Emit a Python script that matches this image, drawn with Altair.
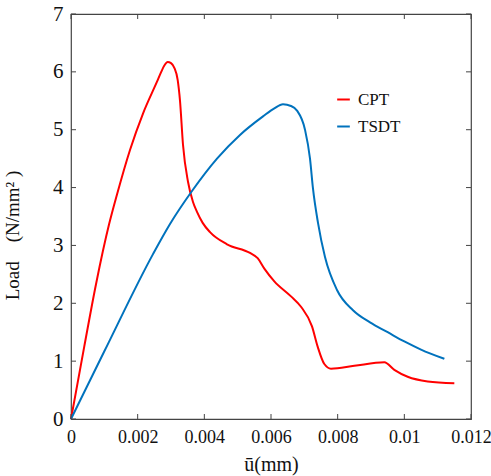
import altair as alt
import pandas as pd

cpt_x = [0, 0.0004, 0.00075, 0.00114, 0.00138, 0.00177, 0.00216, 0.00258, 0.0027, 0.0028, 0.0029, 0.003,
         0.0031, 0.0032, 0.00327, 0.00336, 0.00351, 0.00366, 0.00378, 0.00395, 0.00417, 0.00468,
         0.00537, 0.0056, 0.0058, 0.0061, 0.0066, 0.0069, 0.00723, 0.0074, 0.0076, 0.0078, 0.0085,
         0.0094, 0.0097, 0.0101, 0.0107, 0.0115]
cpt_y = [0, 1.26, 2.33, 3.36, 3.88, 4.65, 5.28, 5.83, 5.99, 6.11, 6.17, 6.15,
         6.07, 5.86, 5.5, 4.74, 4.1, 3.75, 3.58, 3.39, 3.23, 3.02,
         2.87, 2.78, 2.6, 2.38, 2.12, 1.94, 1.6, 1.25, 0.95, 0.87, 0.92,
         0.98, 0.85, 0.73, 0.65, 0.62]

tsdt_x = [0, 0.001, 0.00246, 0.00297, 0.00363, 0.00438, 0.00507, 0.00576, 0.0061, 0.00636,
          0.0066, 0.00678, 0.00702, 0.00717, 0.00726, 0.00741, 0.00762, 0.00798, 0.00846, 0.00897,
          0.0095, 0.01, 0.0105, 0.0112]
tsdt_y = [0, 1.17, 2.85, 3.37, 3.94, 4.5, 4.91, 5.23, 5.37, 5.44,
          5.41, 5.33, 5.0, 4.5, 3.98, 3.39, 2.8, 2.23, 1.88, 1.67,
          1.5, 1.34, 1.2, 1.04]

x_ticks = [0, 0.002, 0.004, 0.006, 0.008, 0.01, 0.012]
y_ticks = [0, 1, 2, 3, 4, 5, 6, 7]

series = ["CPT", "TSDT"]
colors = ["#FF0000", "#0072BD"]

df = pd.concat([
    pd.DataFrame({"u": cpt_x, "load": cpt_y, "s": "CPT", "o": range(len(cpt_x))}),
    pd.DataFrame({"u": tsdt_x, "load": tsdt_y, "s": "TSDT", "o": range(len(tsdt_x))}),
])

FONT = "'Liberation Serif', 'DejaVu Serif', serif"
W, H = 400, 405

xs = alt.Scale(domain=[0, 0.012], nice=False, zero=False)
ys = alt.Scale(domain=[0, 7], nice=False)

lines = alt.Chart(df).mark_line(strokeWidth=2, interpolate="monotone").encode(
    x=alt.X("u:Q", scale=xs, axis=alt.Axis(values=x_ticks, labelExpr="datum.value == 0 ? '0' : format(datum.value, '.3~f')",
                                          title="ū(mm)", ticks=False, grid=False, domain=False,
                                          labelFont=FONT, labelFontSize=18, labelColor="#111",
                                          labelPadding=9, titleFont=FONT, titleFontSize=20,
                                          titleFontWeight="normal", titleColor="#111", titlePadding=8,
                                          labelFlush=False)),
    y=alt.Y("load:Q", scale=ys, axis=alt.Axis(values=y_ticks, format="d", title="Load\u2003(N/mm\u00b2 )", ticks=False,
                                             grid=False, domain=False, labelFont=FONT, labelFontSize=21,
                                             labelColor="#111", labelPadding=8, titleFont=FONT,
                                             titleFontSize=19, titleFontWeight="normal", titleColor="#111",
                                             titleX=-49, titleY=221, labelFlush=False)),
    color=alt.Color("s:N", scale=alt.Scale(domain=series, range=colors),
                    legend=alt.Legend(title=None, orient="none", legendX=264, legendY=77,
                                      symbolType="stroke", symbolStrokeWidth=2, symbolSize=160,
                                      labelFont=FONT, labelFontSize=17, labelColor="#111",
                                      rowPadding=9, labelOffset=6)),
    order="o:Q",
)

xt = pd.DataFrame({"u": x_ticks})
yt = pd.DataFrame({"load": y_ticks})

bottom_ticks = alt.Chart(xt).mark_rule(color="#444", strokeWidth=1).encode(
    x=alt.X("u:Q", scale=xs), y=alt.value(H), y2=alt.value(H - 5))
top_ticks = alt.Chart(xt).mark_rule(color="#444", strokeWidth=1).encode(
    x=alt.X("u:Q", scale=xs), y=alt.value(0), y2=alt.value(5))
right_ticks = alt.Chart(yt).mark_rule(color="#444", strokeWidth=1).encode(
    y=alt.Y("load:Q", scale=ys), x=alt.value(W), x2=alt.value(W - 5))
left_ticks = alt.Chart(yt).mark_rule(color="#444", strokeWidth=1).encode(
    y=alt.Y("load:Q", scale=ys), x=alt.value(0), x2=alt.value(5))

chart = alt.layer(lines, bottom_ticks, top_ticks, right_ticks, left_ticks).properties(
    width=W, height=H,
    autosize=alt.AutoSizeParams(type="none"),
    padding={"left": 71, "top": 14, "right": 20, "bottom": 57},
    background="white",
).configure_view(stroke="#444", strokeWidth=1.2)

chart.save("out.html", embed_options={"renderer": "svg", "actions": False})
